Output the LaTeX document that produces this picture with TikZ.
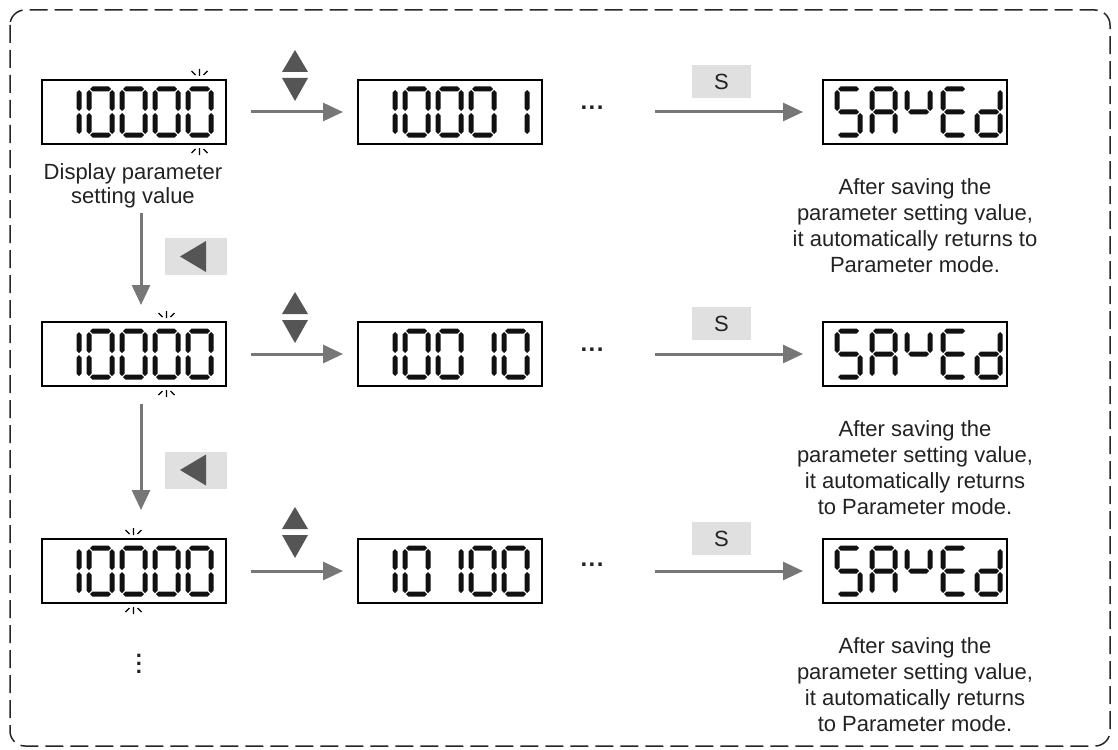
\documentclass[tikz,border=0pt]{standalone}
\usepackage{fontspec}
\setmainfont{Liberation Sans}
\usetikzlibrary{arrows.meta}
\definecolor{segc}{HTML}{111111}
\definecolor{arrc}{HTML}{777777}
\definecolor{btnc}{HTML}{E0E0E0}
\definecolor{tric}{HTML}{555555}
\definecolor{txtc}{HTML}{222222}
\newcommand\hsg[3]{\fill[segc] (#1,#2) -- ++(2.5,-2.5) -- ++(#3-5,0) -- ++(2.5,2.5) -- ++(-2.5,2.5) -- ++(5-#3,0) -- cycle;}
\newcommand\vsg[3]{\fill[segc] (#1,#2) -- ++(2.5,2.5) -- ++(0,#3-5) -- ++(-2.5,2.5) -- ++(-2.5,-2.5) -- ++(0,5-#3) -- cycle;}
\newcommand\Sa[2]{\hsg{#1+1}{#2}{21}}
\newcommand\Sb[2]{\vsg{#1+23}{#2+1}{21}}
\newcommand\Sc[2]{\vsg{#1+23}{#2+24}{21}}
\newcommand\Sd[2]{\hsg{#1+1}{#2+46}{21}}
\newcommand\Se[2]{\vsg{#1}{#2+24}{21}}
\newcommand\Sf[2]{\vsg{#1}{#2+1}{21}}
\newcommand\Sg[2]{\hsg{#1+1}{#2+23}{21}}
\newcommand\Dzero[2]{\Sa{#1}{#2}\Sb{#1}{#2}\Sc{#1}{#2}\Sd{#1}{#2}\Se{#1}{#2}\Sf{#1}{#2}}
\newcommand\Done[2]{\Sb{#1}{#2}\Sc{#1}{#2}}
\newcommand\DS[2]{\Sa{#1}{#2}\Sf{#1}{#2}\Sg{#1}{#2}\Sc{#1}{#2}\Sd{#1}{#2}}
\newcommand\DA[2]{\Sa{#1}{#2}\Sb{#1}{#2}\Sc{#1}{#2}\Se{#1}{#2}\Sf{#1}{#2}\Sg{#1}{#2}}
\newcommand\DY[2]{\Sf{#1}{#2}\Sb{#1}{#2}\Sg{#1}{#2}}
\newcommand\DE[2]{\Sa{#1}{#2}\Sd{#1}{#2}\Se{#1}{#2}\Sf{#1}{#2}\Sg{#1}{#2}}
\newcommand\Dd[2]{\Sb{#1}{#2}\Sc{#1}{#2}\Sd{#1}{#2}\Se{#1}{#2}\Sg{#1}{#2}}
\newcommand\saved[2]{\DS{#1+14}{#2}\DA{#1+49}{#2}\DY{#1+84}{#2}\DE{#1+120}{#2}\Dd{#1+154}{#2}}
\newcommand\blink[3]{\draw[blk] (#1,#2-11) -- (#1,#2-4) (#1-8,#2-9) -- (#1-4,#2-5) (#1+8,#2-9) -- (#1+4,#2-5)
  (#1,#3+11) -- (#1,#3+4) (#1-8,#3+9) -- (#1-4,#3+5) (#1+8,#3+9) -- (#1+4,#3+5);}
\newcommand\updown[2]{\fill[tric] (#1-13,#2-42) -- (#1+13,#2-42) -- (#1,#2-64) -- cycle;
  \fill[tric] (#1-13,#2-36) -- (#1+13,#2-36) -- (#1,#2-13) -- cycle;}
\newcommand\lefttri[2]{\fill[tric] (#1-16,#2) -- (#1+10,#2-15.5) -- (#1+10,#2+15.5) -- cycle;}
\tikzset{
  dispbox/.style={draw=black, line width=1.5pt, minimum width=184pt, minimum height=64pt, inner sep=0pt, outer sep=0pt},
  blk/.style={line width=1.2pt, black},
  arr/.style={draw=arrc, line width=3pt, -{Triangle[length=20pt,width=18pt]}},
  btn/.style={fill=btnc, inner sep=0pt, outer sep=0pt},
  txt/.style={font=\fontsize{22}{26}\selectfont, text=txtc, align=center, inner sep=0pt},
  dots/.style={font=\fontsize{24}{24}\selectfont\bfseries, text=txtc, inner sep=0pt},
}
\begin{document}
\begin{tikzpicture}[x=1pt,y=-1pt]
\useasboundingbox (0,0) rectangle (1118,749);
\draw[line width=1.5pt, dash pattern=on 18pt off 7pt, rounded corners=15pt, black!85] (10,10) rectangle (1110,746);
\coordinate (vx) at (141,0);
% ---------- row 1
\node[dispbox] (d11) at (134,112) {};
\node[dispbox] (d12) at (450,112) {};
\node[dispbox] (d13) at (915,112) {};
\Done{56}{89}\Dzero{89}{89}\Dzero{122}{89}\Dzero{155}{89}\Dzero{188}{89}
\Done{372}{89}\Dzero{405}{89}\Dzero{438}{89}\Dzero{471}{89}\Done{504}{89}
\saved{823}{89}
\blink{199.5}{80}{144}
\updown{295}{114}
\node[dots] (e1) at (592,108) {.\kern1.5pt.\kern1.5pt.};
\node[btn, minimum width=59pt, minimum height=33pt] (s1) at (721.5,81.5) {};
\node[txt] at (s1) {S};
\draw[arr, shorten <=25pt, shorten >=15pt] (d11) -- (d12);
\draw[arr, shorten <=63pt, shorten >=20pt] (e1.center |- d13) -- (d13);
\node[txt, font=\fontsize{22}{24}\selectfont, anchor=north] (lab1) at (133,163) {Display parameter\\setting value};
\node[txt, anchor=north] (t1) at (915,178) {After saving the\\parameter setting value,\\it automatically returns to\\Parameter mode.};
% ---------- row 2
\node[dispbox] (d21) at (134,354) {};
\node[dispbox] (d22) at (450,354) {};
\node[dispbox] (d23) at (915,354) {};
\Done{56}{331}\Dzero{89}{331}\Dzero{122}{331}\Dzero{155}{331}\Dzero{188}{331}
\Done{372}{331}\Dzero{405}{331}\Dzero{438}{331}\Done{471}{331}\Dzero{504}{331}
\saved{823}{331}
\blink{166.5}{322}{386}
\updown{295}{356}
\node[dots] (e2) at (592,350) {.\kern1.5pt.\kern1.5pt.};
\node[btn, minimum width=59pt, minimum height=33pt] (s2) at (721.5,323.5) {};
\node[txt] at (s2) {S};
\draw[arr, shorten <=25pt, shorten >=15pt] (d21) -- (d22);
\draw[arr, shorten <=63pt, shorten >=20pt] (e2.center |- d23) -- (d23);
\node[txt, anchor=north] (t2) at (915,420) {After saving the\\parameter setting value,\\it automatically returns\\to Parameter mode.};
% ---------- row 3
\node[dispbox] (d31) at (134,571) {};
\node[dispbox] (d32) at (450,571) {};
\node[dispbox] (d33) at (915,571) {};
\Done{56}{548}\Dzero{89}{548}\Dzero{122}{548}\Dzero{155}{548}\Dzero{188}{548}
\Done{372}{548}\Dzero{405}{548}\Done{438}{548}\Dzero{471}{548}\Dzero{504}{548}
\saved{823}{548}
\blink{133.5}{539}{603}
\updown{295}{571}
\node[dots] (e3) at (592,565) {.\kern1.5pt.\kern1.5pt.};
\node[btn, minimum width=59pt, minimum height=33pt] (s3) at (721.5,538.5) {};
\node[txt] at (s3) {S};
\draw[arr, shorten <=25pt, shorten >=15pt] (d31) -- (d32);
\draw[arr, shorten <=63pt, shorten >=20pt] (e3.center |- d33) -- (d33);
\node[txt, anchor=north] (t3) at (915,637) {After saving the\\parameter setting value,\\it automatically returns\\to Parameter mode.};
\node[dots, font=\fontsize{22}{8}\selectfont\bfseries, align=center] (vd) at (139,664) {.\\.\\.};
% ---------- vertical arrows and buttons
\node[btn, minimum width=62pt, minimum height=37pt] (b1) at (196,256.5) {};
\lefttri{196}{256.5}
\node[btn, minimum width=62pt, minimum height=37pt] (b2) at (196,470) {};
\lefttri{196}{470}
\draw[arr, shorten <=5pt, shorten >=17pt] (lab1.south -| vx) -- (d21.north -| vx);
\draw[arr, shorten <=18pt, shorten >=29pt] (d21.south -| vx) -- (d31.north -| vx);
\end{tikzpicture}
\end{document}
